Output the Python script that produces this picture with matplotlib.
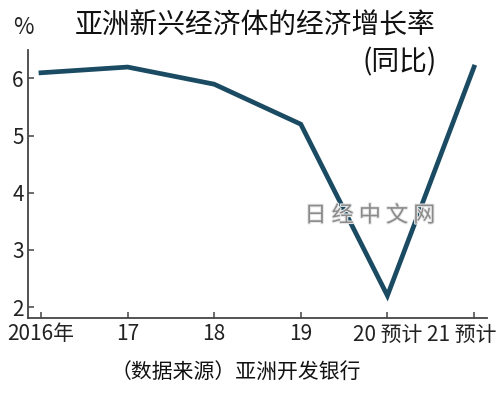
import matplotlib
matplotlib.use("Agg")
import matplotlib.pyplot as plt
import matplotlib.transforms as mtransforms
import matplotlib.patheffects as pe

years = [2016, 2017, 2018, 2019, 2020, 2021]
growth = [6.1, 6.2, 5.9, 5.2, 2.2, 6.2]
xlabels = ["2016年", "17", "18", "19", "20 预计", "21 预计"]
yticks = [2, 3, 4, 5, 6]

title = "亚洲新兴经济体的经济增长率"
subtitle = "(同比)"
source = "（数据来源）亚洲开发银行"
watermark = "日 经 中 文 网"

cjk = ["Noto Sans CJK SC", "DejaVu Sans"]
num = ["Liberation Sans Narrow", "Noto Sans CJK SC", "DejaVu Sans"]

fig = plt.figure(figsize=(5.0, 3.93), dpi=100)
ax = fig.add_axes([0.056, 0.191, 0.918, 0.682])

ax.plot(years, growth, color="#1b4b62", lw=3.4, solid_joinstyle="miter", zorder=3)

ax.set_xlim(2015.85, 2021.15)
ax.set_ylim(1.81, 6.5)
ax.set_yticks(yticks)
ax.set_yticklabels([str(v) for v in yticks], family=num, fontsize=15, color="#222222")
ax.set_xticks(years)
ax.set_xticklabels(xlabels, family=num, fontsize=15, color="#222222")

for s in ["top", "right"]:
    ax.spines[s].set_visible(False)
for s in ["left", "bottom"]:
    ax.spines[s].set_color("#444444")
    ax.spines[s].set_linewidth(1.3)
ax.tick_params(axis="both", direction="in", length=4, width=1.1, color="#444444")
ax.tick_params(axis="y", pad=3)
ax.tick_params(axis="x", pad=4)

labs = ax.get_xticklabels()
labs[-1].set_transform(labs[-1].get_transform() + mtransforms.ScaledTranslation(-0.12, 0, fig.dpi_scale_trans))

fig.text(0.51, 0.935, title, family=cjk, fontsize=20, ha="center", va="center", color="#111111")
fig.text(0.80, 0.842, subtitle, family=cjk, fontsize=20, ha="center", va="center", color="#111111")
fig.text(0.046, 0.93, "%", family=num, fontsize=16, ha="center", va="center", color="#222222")
fig.text(0.472, 0.055, source, family=cjk, fontsize=15, ha="center", va="center", color="#111111")
fig.text(0.74, 0.452, watermark, family=cjk, fontsize=16, ha="center", va="center", color="#8a8a8a",
         path_effects=[pe.withStroke(linewidth=1.5, foreground="#e8e8e8")])

fig.savefig("out.png", dpi=100)
